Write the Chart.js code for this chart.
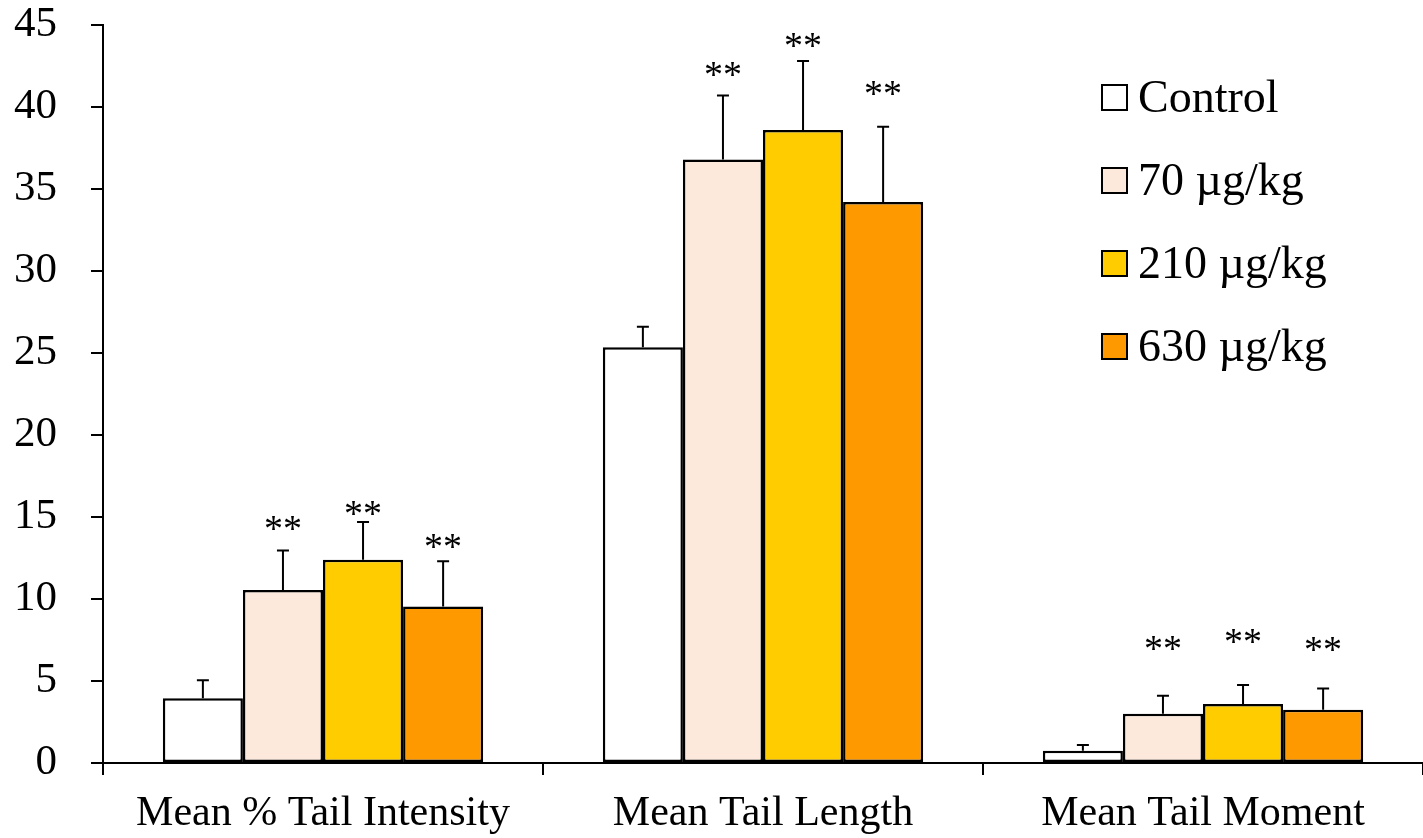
<!DOCTYPE html>
<html>
<head>
<meta charset="utf-8">
<script src="https://cdn.jsdelivr.net/npm/chart.js@4.4.0/dist/chart.umd.min.js"></script>
<style>
    html, body { margin: 0; padding: 0; background: #fff; }
    canvas { display: block; }
</style>
</head>
<body>
<canvas id="myChart" width="1423" height="838"></canvas>
<script>
const categories = ['Mean % Tail Intensity', 'Mean Tail Length', 'Mean Tail Moment'];
const groups = ['Control', '70 µg/kg', '210 µg/kg', '630 µg/kg'];

// bar heights
const control = [3.95, 25.35, 0.75];
const dose70 = [10.55, 36.8, 3.0];
const dose210 = [12.4, 38.6, 3.6];
const dose630 = [9.55, 34.2, 3.25];

// upper error bars
const errControl = [1.1, 1.25, 0.35];
const err70 = [2.4, 3.9, 1.1];
const err210 = [2.3, 4.2, 1.15];
const err630 = [2.75, 4.6, 1.3];

// level (in y units) of the ** marks
const star70 = [14.7, 42.4, 7.4];
const star210 = [15.6, 44.15, 7.8];
const star630 = [13.6, 41.2, 7.3];

const yTicks = [0, 5, 10, 15, 20, 25, 30, 35, 40, 45];

const colors = ['#ffffff', '#fde9db', '#ffcc00', '#ff9900'];
const serif = "'Liberation Serif', 'Times New Roman', serif";

const values = [control, dose70, dose210, dose630];
const errors = [errControl, err70, err210, err630];
const stars = [null, star70, star210, star630];

const errorBars = {
    id: 'errorBars',
    afterDatasetsDraw(chart) {
        const ctx = chart.ctx;
        const y = chart.scales.y;
        ctx.save();
        ctx.strokeStyle = '#000';
        ctx.lineWidth = 2;
        ctx.fillStyle = '#000';
        ctx.font = '38px ' + serif;
        ctx.textAlign = 'center';
        ctx.textBaseline = 'alphabetic';
        chart.data.datasets.forEach((ds, i) => {
            const meta = chart.getDatasetMeta(i);
            meta.data.forEach((bar, j) => {
                const top = y.getPixelForValue(ds.data[j] + ds.err[j]);
                ctx.beginPath();
                ctx.moveTo(bar.x, bar.y);
                ctx.lineTo(bar.x, top);
                ctx.moveTo(bar.x - 6, top);
                ctx.lineTo(bar.x + 6, top);
                ctx.stroke();
                if (ds.stars) {
                    ctx.fillText('**', bar.x, y.getPixelForValue(ds.stars[j]) + 19);
                }
            });
        });
        ctx.restore();
    }
};

const boxLegend = {
    id: 'boxLegend',
    afterDraw(chart) {
        const ctx = chart.ctx;
        const area = chart.chartArea;
        const x0 = area.right - 321;
        ctx.save();
        ctx.font = '46px ' + serif;
        ctx.textBaseline = 'alphabetic';
        ctx.textAlign = 'left';
        chart.data.datasets.forEach((ds, i) => {
            const cy = area.top + 72 + i * 83;
            ctx.fillStyle = ds.backgroundColor;
            ctx.fillRect(x0, cy - 12, 25, 25);
            ctx.strokeStyle = '#000';
            ctx.lineWidth = 2;
            ctx.strokeRect(x0, cy - 12, 25, 25);
            ctx.fillStyle = '#000';
            ctx.fillText(ds.label, x0 + 36, cy + 15);
        });
        ctx.restore();
    }
};

const ctx = document.getElementById('myChart');

new Chart(ctx, {
    type: 'bar',
    data: {
        labels: categories,
        datasets: groups.map((g, i) => ({
            label: g,
            data: values[i],
            err: errors[i],
            stars: stars[i],
            backgroundColor: colors[i],
            borderColor: '#000',
            borderWidth: 2.5,
            borderSkipped: false,
            categoryPercentage: 0.728,
            barPercentage: 1.0,
        }))
    },
    options: {
        responsive: false,
        animation: false,
        devicePixelRatio: 1,
        layout: { padding: { top: 25, right: 0, left: 0, bottom: 0 } },
        plugins: {
            legend: { display: false },
            tooltip: { enabled: false },
        },
        scales: {
            x: {
                grid: {
                    drawOnChartArea: false,
                    color: '#000',
                    lineWidth: 2,
                    tickLength: 12,
                },
                border: { color: '#000', width: 2 },
                ticks: {
                    color: '#000',
                    font: { family: serif, size: 42 },
                    padding: 14,
                    maxRotation: 0,
                },
                afterFit(scale) {
                    scale.height = 75;
                    scale.paddingLeft = 0;
                    scale.paddingRight = 0;
                }
            },
            y: {
                min: 0,
                max: 45,
                afterBuildTicks(scale) {
                    scale.ticks = yTicks.map(v => ({ value: v }));
                },
                grid: {
                    drawOnChartArea: false,
                    color: '#000',
                    lineWidth: 2,
                    tickLength: 12,
                },
                border: { color: '#000', width: 2 },
                ticks: {
                    color: '#000',
                    font: { family: serif, size: 43 },
                    padding: 34,
                },
                afterFit(scale) {
                    scale.width = 103;
                    scale.paddingTop = 0;
                    scale.paddingBottom = 0;
                }
            }
        }
    },
    plugins: [errorBars, boxLegend]
});
</script>
</body>
</html>
